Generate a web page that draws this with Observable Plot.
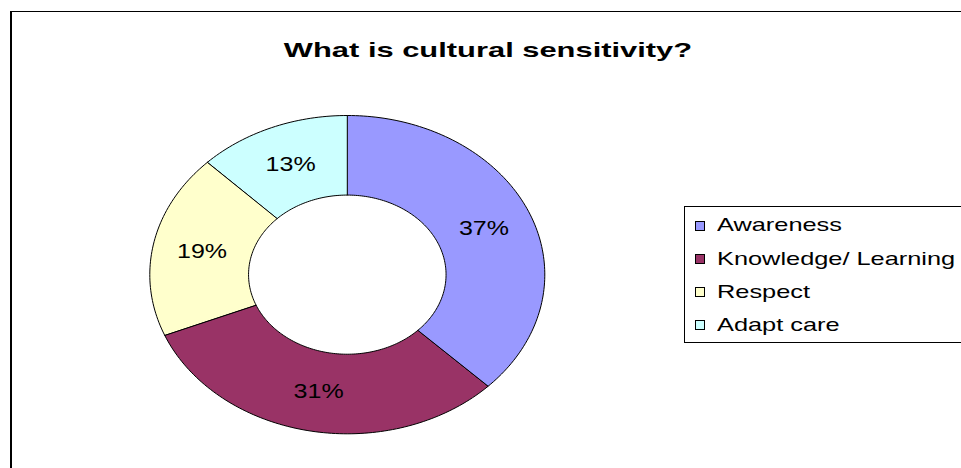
<!DOCTYPE html>
<html>
<head>
<meta charset="utf-8">
<script src="https://cdn.jsdelivr.net/npm/d3@7"></script>
<script src="https://cdn.jsdelivr.net/npm/@observablehq/plot@0.6"></script>
<style>
  html, body { margin: 0; padding: 0; background: #fff; overflow: hidden; }
  #wrap { position: relative; width: 961px; height: 468px; overflow: hidden; font-family: Arial, "Liberation Sans", sans-serif; }
  #frame { position: absolute; left: 10px; top: 11px; width: 1100px; height: 600px;
           border-left: 2px solid #000; border-top: 1.5px solid #000; }
  #chart { position: absolute; left: 0; top: 0; }
  #title { position: absolute; left: 488px; top: 38.5px; font-size: 21px; line-height: 21px; font-weight: bold;
           white-space: nowrap; transform: translateX(-50%) scaleX(1.47); color: #000; }
  #legend { position: absolute; left: 684px; top: 205.5px; width: 400px; height: 133px;
            border: 1.5px solid #000; padding-top: 2.5px; background: #fff; }
  .row { display: flex; align-items: center; height: 33.2px; padding-left: 9.5px; }
  .sw { width: 10px; height: 10px; box-sizing: border-box; border: 1px solid #000; flex: none; }
  .lt { margin-left: 12px; font-size: 18.5px; line-height: 18.5px; white-space: nowrap;
        transform: scaleX(1.37); transform-origin: left center; color: #000; }
</style>
</head>
<body>
<div id="wrap">
  <div id="chart"></div>
  <div id="frame"></div>
  <div id="title"></div>
  <div id="legend"></div>
</div>
<script>
const title = "What is cultural sensitivity?";
const categories = ["Awareness", "Knowledge/ Learning", "Respect", "Adapt care"];
const values = [37.4, 31.4, 18.7, 12.5];
const colors = ["#9999FF", "#993366", "#FFFFCC", "#CCFFFF"];
const valueLabels = ["37%", "31%", "19%", "13%"];

// Build donut slice polygons (clockwise from 12 o'clock) in unit coordinates
const total = d3.sum(values);
const innerR = 0.5;
const rings = [];
const labelPts = [];
let acc = 0;
values.forEach((v, i) => {
  const a0 = acc / total * 2 * Math.PI;
  const a1 = (acc + v) / total * 2 * Math.PI;
  const n = Math.max(8, Math.ceil(v * 3));
  for (let k = 0; k <= n; k++) {
    const a = a0 + (a1 - a0) * k / n;
    rings.push({cat: categories[i], x: Math.sin(a), y: Math.cos(a)});
  }
  for (let k = n; k >= 0; k--) {
    const a = a0 + (a1 - a0) * k / n;
    rings.push({cat: categories[i], x: innerR * Math.sin(a), y: innerR * Math.cos(a)});
  }
  const am = (a0 + a1) / 2;
  const rm = (1 + innerR) / 2;
  labelPts.push({label: valueLabels[i], x: rm * Math.sin(am), y: rm * Math.cos(am)});
  acc += v;
});

const plot = Plot.plot({
  width: 961,
  height: 468,
  margin: 0,
  style: {background: "transparent", overflow: "visible"},
  x: {domain: [-1, 1], range: [149.3, 544.3], axis: null},
  y: {domain: [-1, 1], range: [433.3, 115], axis: null},
  color: {domain: categories, range: colors},
  marks: [
    Plot.line(rings, {x: "x", y: "y", z: "cat", fill: "cat", stroke: "#000", strokeWidth: 1, curve: "linear-closed"}),
    Plot.text(labelPts, {x: "x", y: "y", text: "label", fontSize: 20, fill: "#000",
      fontFamily: "Arial, 'Liberation Sans', sans-serif"})
  ]
});
document.getElementById("chart").appendChild(plot);

// Horizontally widen the labels, as in the reference (stretched rendering)
plot.querySelectorAll("text").forEach(t => {
  const b = t.getBBox();
  const cx = b.x + b.width / 2;
  const tr = t.getAttribute("transform") || "";
  t.setAttribute("transform", `${tr} translate(${cx},0) scale(1.25,1) translate(${-cx},0)`);
});

document.getElementById("title").textContent = title;
const legend = document.getElementById("legend");
categories.forEach((c, i) => {
  const row = document.createElement("div");
  row.className = "row";
  const sw = document.createElement("div");
  sw.className = "sw";
  sw.style.background = colors[i];
  const lt = document.createElement("span");
  lt.className = "lt";
  lt.textContent = c;
  row.appendChild(sw);
  row.appendChild(lt);
  legend.appendChild(row);
});
</script>
</body>
</html>
